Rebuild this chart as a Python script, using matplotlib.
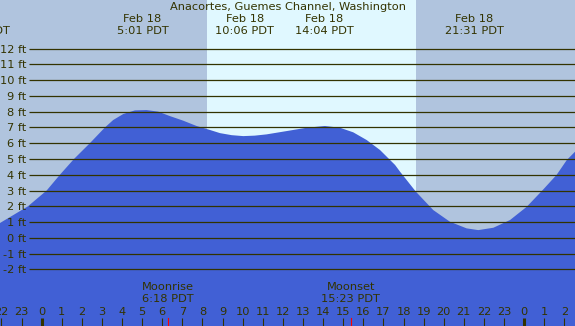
import numpy as np
import matplotlib
matplotlib.use("Agg")
import matplotlib.pyplot as plt
from matplotlib.ticker import FixedLocator, FixedFormatter

# tide height (ft), hours from midnight Feb 18 (PDT)
hours = [-2.07, -1.4, -0.68, 0.25, 0.91, 1.61, 2.4, 3.15, 3.56, 4.06, 4.64,
         5.22, 5.8, 6.38, 7.04, 7.71, 8.37, 8.87, 9.45, 10.03, 10.6, 11.19,
         12.19, 13.18, 14.09, 14.84, 15.5, 16.17, 16.83, 17.58, 17.83, 18.62,
         19.48, 20.31, 21.14, 21.72, 22.47, 23.3, 24.13, 24.96, 25.62, 26.12,
         26.53]
heights = [0.94, 1.45, 2.0, 3.0, 4.0, 5.0, 6.0, 7.0, 7.47, 7.85, 8.08,
           8.1, 8.0, 7.72, 7.43, 7.09, 6.84, 6.64, 6.51, 6.45, 6.48, 6.56,
           6.77, 6.98, 7.09, 6.98, 6.69, 6.2, 5.57, 4.62, 4.19, 2.92,
           1.76, 1.02, 0.6, 0.49, 0.64, 1.13, 1.97, 3.08, 4.0, 4.93,
           5.46]

sunrise = 8.21
sunset = 18.62

# high / low tide labels
event_hours = [-3.04, 5.017, 10.1, 14.067, 21.517]
event_dates = ["Feb 17", "Feb 18", "Feb 18", "Feb 18", "Feb 18"]
event_times = ["20:50 PDT", "5:01 PDT", "10:06 PDT", "14:04 PDT", "21:31 PDT"]

moon_hours = [6.3, 15.383]
moon_names = ["Moonrise", "Moonset"]
moon_times = ["6:18 PDT", "15:23 PDT"]

levels = list(range(-2, 13))
tick_hours = list(range(-2, 27))

title = "Anacortes, Guemes Channel, Washington"

night = "#b0c4de"
day = "#e0f8ff"
water = "#4160d5"
ink = "#333300"
fs = 8.2

W, H = 575, 326
fig = plt.figure(figsize=(W / 100, H / 100), dpi=100)
ax = fig.add_axes([0, 0, 1, 1])
ax.set_facecolor(night)
x0, x1 = -2.07, 26.53
y0, y1 = -5.59, 15.08
ax.set_xlim(x0, x1)
ax.set_ylim(y0, y1)
for s in ax.spines.values():
    s.set_visible(False)

ax.axvspan(sunrise, sunset, color=day, zorder=0, lw=0)
ax.fill_between(hours, heights, y0 - 1, color=water, lw=0, zorder=1)

# grid lines start a bit right of the labels
xs = x0 + 29 / W * (x1 - x0)
ax.hlines(levels, xs, x1, color=ink, lw=0.9, zorder=2)

ax.set_yticks(levels)
ax.set_yticklabels([f"{v} ft" for v in levels])
ax.tick_params(axis="y", length=0, pad=-26 * 0.72, labelsize=fs,
               labelcolor=ink)
for lab in ax.get_yticklabels():
    lab.set_horizontalalignment("right")

major = [h for h in tick_hours if h % 24 == 0]
minor = [h for h in tick_hours if h % 24 != 0]
ax.xaxis.set_major_locator(FixedLocator(major))
ax.xaxis.set_major_formatter(FixedFormatter([str(h % 24) for h in major]))
ax.xaxis.set_minor_locator(FixedLocator(minor))
ax.xaxis.set_minor_formatter(FixedFormatter([str(h % 24) for h in minor]))
ax.tick_params(axis="x", which="both", direction="in", length=6,
               pad=-14.0, labelsize=fs, labelcolor=ink, color=ink)
ax.tick_params(axis="x", which="major", width=2.2)
ax.tick_params(axis="x", which="minor", width=0.8)

for t in moon_hours:
    ax.axvline(t, 0, 8 / H, color="red", lw=0.8, zorder=3)


def ypix(p):
    return 1 - p / H


ax.text(0.5, ypix(7), title, transform=ax.transAxes, ha="center",
        va="center", fontsize=fs, color=ink)
tr = ax.get_xaxis_transform()
for t, d, tm in zip(event_hours, event_dates, event_times):
    ax.text(t, ypix(19), d, transform=tr, ha="center", va="center",
            fontsize=fs, color=ink, clip_on=False)
    ax.text(t, ypix(31), tm, transform=tr, ha="center", va="center",
            fontsize=fs, color=ink, clip_on=False)
for t, n, tm in zip(moon_hours, moon_names, moon_times):
    ax.text(t, ypix(287), n, transform=tr, ha="center", va="center",
            fontsize=fs, color=ink)
    ax.text(t, ypix(298.5), tm, transform=tr, ha="center", va="center",
            fontsize=fs, color=ink)

fig.savefig("out.png", dpi=100)
